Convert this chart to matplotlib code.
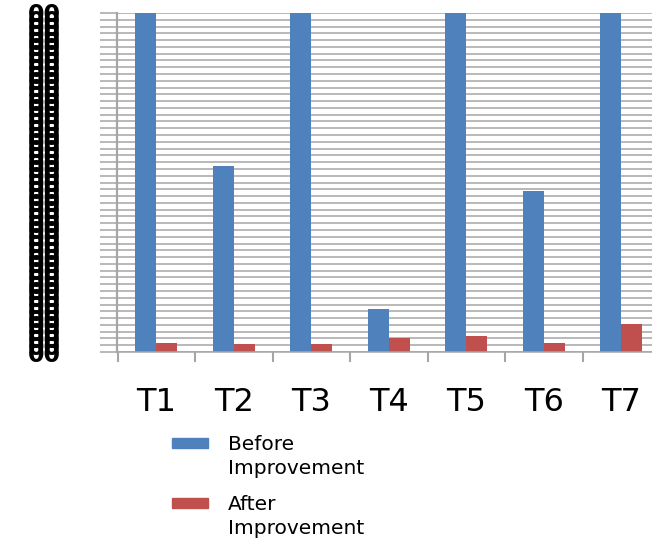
import matplotlib
matplotlib.use("Agg")
import matplotlib.pyplot as plt
from matplotlib.patches import Rectangle
import numpy as np

categories = ["T1", "T2", "T3", "T4", "T5", "T6", "T7"]
before = [60, 27.4, 60, 6.3, 60, 23.7, 60]   # T1/T3/T5/T7 run off the top
after = [1.4, 1.2, 1.2, 2.0, 2.3, 1.4, 4.1]
y_ticks = list(range(0, 51))
y_tick_labels = ["00"] * len(y_ticks)
series_labels = ["Before\nImprovement", "After\nImprovement"]

blue = "#4F81BD"
red = "#C0504D"
grid_c = "#a6a6a6"

fig = plt.figure(figsize=(6.52, 5.39), dpi=100)
W, H = 652, 539
left_px, right_px, top_px, base_px = 117.5, 660, 13, 352
ax = fig.add_axes([left_px / W, 1 - base_px / H,
                   (right_px - left_px) / W, (base_px - top_px) / H])

x = np.arange(len(categories))
w = 0.27
b1 = ax.bar(x - w / 2, before, w, color=blue)
b2 = ax.bar(x + w / 2, after, w, color=red)

ax.set_xlim(-0.5, len(categories) - 0.5)
ax.set_ylim(0, 50)
ax.set_axisbelow(True)

ax.set_yticks(y_ticks)
ax.set_yticklabels(y_tick_labels, fontsize=17, fontweight="bold")
ax.yaxis.grid(True, color=grid_c, linewidth=1.1)
ax.tick_params(axis="y", length=12, width=1.1, color=grid_c, pad=29)

# boundaries get the tick marks, centres get the labels
ax.set_xticks(np.arange(-0.5, len(categories), 1.0))
ax.set_xticklabels([])
ax.set_xticks(x, minor=True)
ax.set_xticklabels(categories, minor=True, fontsize=23)
ax.tick_params(axis="x", which="major", length=7, width=1.5, color=grid_c)
ax.tick_params(axis="x", which="minor", length=0, pad=25)

for s in ["top", "right"]:
    ax.spines[s].set_visible(False)
ax.spines["left"].set_color(grid_c)
ax.spines["left"].set_linewidth(1.6)
ax.spines["bottom"].set_color(grid_c)
ax.spines["bottom"].set_linewidth(1.1)

# legend drawn by hand: swatch sits beside the first line of each label
for i, (lab, col) in enumerate(zip(series_labels, [blue, red])):
    y0 = 438 + i * 60
    fig.patches.append(Rectangle((172 / W, 1 - (y0 + 10) / H), 36 / W, 10 / H,
                                 transform=fig.transFigure, color=col))
    fig.text(228 / W, 1 - (y0 - 3) / H, lab, fontsize=14.5, va="top",
             ha="left", linespacing=1.35)

fig.savefig("out.png", dpi=100)
